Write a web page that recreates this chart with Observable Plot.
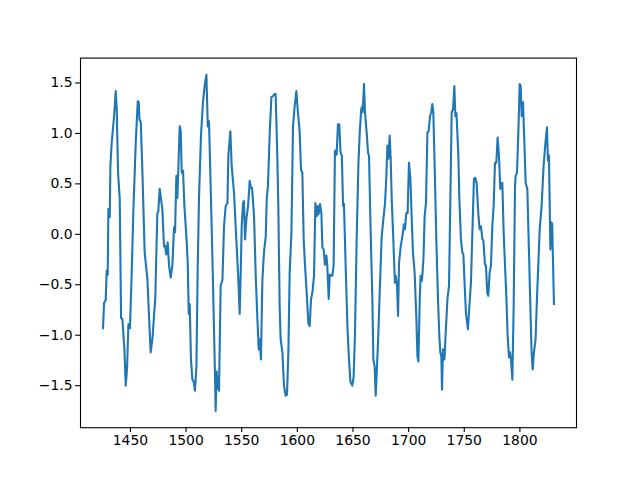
<!DOCTYPE html>
<html>
<head>
<meta charset="utf-8">
<script src="https://cdn.jsdelivr.net/npm/d3@7"></script>
<script src="https://cdn.jsdelivr.net/npm/@observablehq/plot@0.6"></script>
<style>
  html, body { margin: 0; padding: 0; background: white; }
</style>
</head>
<body>
<div id="chart"></div>
<script>
const years = [
1425.4,1426.3,1427.8,1428.7,1429.6,1430.2,1431.4,1432.0,1433.2,1435.3,1436.8,1437.7,1438.9,1440.4,1441.6,1442.8,1444.6,1445.8,1447.0,1448.2,1449.6,
1451.0,1452.7,1454.8,1456.6,1457.5,1458.1,1459.3,1460.8,1462.8,1465.3,1466.7,1468.2,1469.8,1472.4,
1473.6,1474.2,1475.0,1476.3,1477.5,1478.7,1480.2,1481.0,1482.3,1483.5,1484.7,1486.2,1487.7,1489.2,1490.1,1491.3,1492.2,1494.3,1495.2,1496.1,1497.3,1498.5,
1500.3,1501.5,1502.4,1503.3,1504.4,1505.7,1506.9,1508.0,1509.3,1510.5,1511.6,1513.4,1515.2,1517.0,1518.3,1519.5,1520.6,1522.4,1524.2,1525.7,1526.6,
1527.5,1528.4,1529.6,1531.1,1532.7,1534.1,1535.6,1537.2,1538.0,1539.8,1541.0,1543.1,1545.3,1547.0,1548.2,1549.1,1550.0,1551.2,1552.0,1553.0,1554.2,
1555.7,1557.2,1558.4,1559.3,1561.1,1562.6,1564.1,1565.3,1566.2,1567.3,1568.6,1570.0,1571.6,1572.5,1573.6,1575.2,1576.7,1578.1,1579.4,1580.5,
1582.0,1582.9,1584.1,1585.0,1586.6,1588.0,1589.5,1590.7,1592.0,1593.1,1594.7,1596.1,1597.6,1599.1,1600.3,1602.1,1603.3,1604.5,1605.7,1606.9,1608.4,
1609.9,1611.1,1612.3,1613.5,1615.0,1616.2,1617.4,1618.3,1619.1,1620.4,1621.6,1622.5,1623.7,1624.8,1626.1,1626.9,1628.2,1629.1,1630.3,1631.5,1632.6,1633.8,
1634.4,1635.3,1636.5,1637.7,1638.8,1640.0,1641.1,1641.9,1643.4,1645.0,1646.4,1647.7,1649.4,1650.6,1651.8,1653.3,1654.9,1656.1,1657.2,1657.8,1658.7,
1659.9,1660.8,1662.3,1663.5,1664.4,1665.9,1667.4,1668.3,1669.5,1670.4,1671.6,1672.8,1674.3,1675.8,1677.3,1678.8,1680.0,1680.9,1681.8,1683.0,1683.9,1684.8,1686.0,1687.7,
1688.4,1689.6,1690.5,1691.4,1692.9,1694.4,1695.8,1696.7,1697.9,1699.1,1700.3,1701.6,1702.7,1703.9,1705.4,1707.0,1707.9,1708.8,1710.0,1710.8,1712.0,1713.3,
1714.4,1715.6,1716.9,1718.0,1719.2,1720.4,1721.3,1722.2,1723.4,1724.9,1726.4,1727.6,1728.5,1729.4,1730.0,1730.9,1732.2,1733.3,1734.9,1736.3,1737.5,1738.7,1739.9,1741.1,1742.0,1743.0,
1744.7,1745.6,1747.0,1748.3,1749.2,1750.4,1751.5,1753.3,1754.6,1756.0,1757.3,1758.7,1759.9,1761.1,1762.6,1763.8,1765.0,1766.3,1767.2,1768.6,1769.5,1770.7,1771.6,
1772.8,1774.0,1775.2,1776.4,1777.6,1778.8,1780.0,1781.2,1782.4,1783.3,1784.2,1785.4,1786.6,1787.9,1789.0,1790.2,1791.1,1792.0,1793.2,1794.4,1795.6,
1796.2,1797.4,1798.6,1799.8,1800.7,1801.6,1802.8,1803.7,1805.2,1806.7,1808.1,1809.4,1810.5,1811.5,1812.6,1814.1,1815.3,1816.5,1817.8,1819.5,1821.3,
1823.2,1824.3,1825.2,1826.1,1827.4,1828.3,1829.0,1830.6
];
const values = [
-0.93,-0.68,-0.65,-0.36,-0.40,0.25,0.17,0.68,0.91,1.17,1.42,1.24,0.61,0.35,-0.83,-0.84,-1.14,-1.50,-1.32,-0.89,-0.93,
-0.44,0.25,0.91,1.32,1.31,1.14,1.11,0.61,-0.18,-0.45,-0.81,-1.17,-1.03,-0.62,
-0.05,0.21,0.22,0.45,0.35,0.25,-0.12,-0.11,-0.20,-0.08,-0.31,-0.43,-0.31,0.07,0.02,0.58,0.36,1.07,1.03,0.61,0.63,0.28,
-0.02,-0.28,-0.79,-0.69,-1.24,-1.44,-1.46,-1.55,-1.31,-0.31,0.35,0.98,1.31,1.50,1.58,1.07,1.12,0.35,-0.48,-1.24,-1.75,
-1.36,-1.50,-1.55,-0.51,-0.45,0.08,0.28,0.31,0.78,1.02,0.68,0.41,-0.08,-0.45,-0.79,-0.38,0.08,0.31,0.33,-0.05,0.15,
0.28,0.53,0.46,0.46,0.18,-0.41,-0.84,-1.14,-1.04,-1.24,-0.45,-0.18,-0.02,0.35,0.48,1.01,1.36,1.37,1.39,1.39,
0.78,0.28,-0.71,-1.04,-1.17,-1.50,-1.60,-1.59,-1.14,-0.38,0.02,1.07,1.27,1.42,1.24,1.01,0.64,0.61,-0.05,-0.31,-0.58,
-0.88,-0.91,-0.64,-0.58,-0.41,0.31,0.18,0.28,0.20,0.30,0.21,-0.13,-0.15,-0.30,-0.21,-0.31,-0.64,-0.40,-0.41,-0.41,-0.31,0.83,
0.79,0.79,1.09,1.09,0.81,0.78,0.28,0.30,-0.31,-0.91,-1.24,-1.46,-1.50,-1.41,-0.98,-0.05,0.71,1.01,1.21,1.26,1.21,
1.49,1.21,1.01,0.81,0.78,0.02,-0.64,-1.24,-1.31,-1.60,-1.31,-0.98,-0.48,-0.02,0.15,0.31,0.58,0.88,0.75,0.98,0.74,0.35,0.02,-0.48,
-0.41,-0.51,-0.81,-0.28,-0.12,-0.02,0.10,0.05,0.21,0.21,0.71,0.55,0.18,-0.18,-0.38,-0.84,-1.21,-1.26,-0.64,-0.41,-0.46,-0.25,
0.18,0.31,1.01,1.02,1.17,1.21,1.29,1.21,0.68,-0.05,-0.64,-1.01,-1.17,-1.21,-1.54,-1.14,-1.24,-0.98,-0.64,-0.51,0.35,1.21,1.24,1.47,1.17,1.20,
0.78,0.35,-0.05,-0.18,-0.20,-0.51,-0.78,-0.94,-0.71,-0.48,0.02,0.55,0.56,0.51,0.21,0.05,0.08,-0.05,-0.06,-0.30,-0.31,-0.58,-0.61,
-0.38,-0.31,0.08,0.28,0.71,0.71,0.96,0.78,0.45,0.50,0.51,0.02,-0.30,-0.64,-1.01,-1.22,-1.17,-1.24,-1.44,-0.71,0.48,
0.58,0.61,1.01,1.49,1.47,1.17,1.31,1.01,0.51,0.45,-0.15,-0.71,-1.17,-1.34,-1.17,-1.04,-0.64,-0.31,0.05,0.28,0.68,
0.94,1.06,0.73,0.78,-0.15,0.12,0.10,-0.69
];
const xTicks = [1450, 1500, 1550, 1600, 1650, 1700, 1750, 1800];
const yTicks = [-1.5, -1.0, -0.5, 0.0, 0.5, 1.0, 1.5];

const data = years.map((x, i) => ({x, y: values[i]}));
const [x0, x1] = d3.extent(years);
const [y0, y1] = d3.extent(values);
const px = (x1 - x0) * 0.05, py = (y1 - y0) * 0.05;

const chart = Plot.plot({
  width: 640,
  height: 480,
  marginLeft: 80,
  marginRight: 64,
  marginTop: 57.6,
  marginBottom: 52.8,
  x: {domain: [x0 - px, x1 + px]},
  y: {domain: [y0 - py, y1 + py]},
  style: {fontFamily: "DejaVu Sans", fontSize: "13.9px", background: "white", color: "black"},
  marks: [
    Plot.line(data, {x: "x", y: "y", stroke: "#1f77b4", strokeWidth: 2.1, strokeLinejoin: "round", strokeLinecap: "square"}),
    Plot.frame({stroke: "black", strokeWidth: 1.1}),
    Plot.axisX({ticks: xTicks, tickFormat: d => String(d), tickSize: 4.9, tickPadding: 3, label: null, strokeWidth: 1.1}),
    Plot.axisY({ticks: yTicks, tickFormat: d3.format(".1f"), tickSize: 4.9, tickPadding: 3, label: null, strokeWidth: 1.1})
  ]
});
document.getElementById("chart").appendChild(chart);
</script>
</body>
</html>
